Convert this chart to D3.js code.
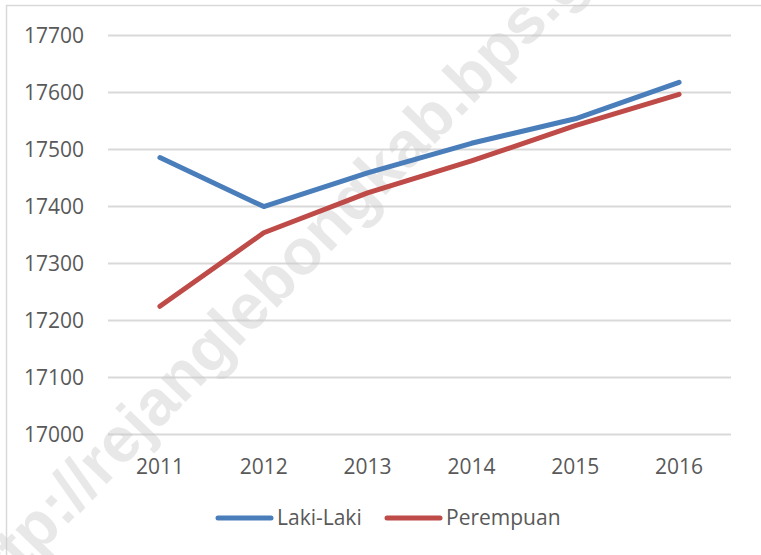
<!DOCTYPE html>
<html>
<head>
<meta charset="utf-8">
<script src="https://cdn.jsdelivr.net/npm/d3@7"></script>
<style>
  html, body { margin: 0; padding: 0; background: #fff; }
  svg { display: block; }
  text { font-family: "Open Sans", "Noto Sans", sans-serif; }
</style>
</head>
<body>
<svg id="chart" width="761" height="555"></svg>
<script>
const years = ["2011", "2012", "2013", "2014", "2015", "2016"];
const lakiLaki = [17485, 17399, 17458, 17510, 17553, 17617];
const perempuan = [17224, 17353, 17423, 17479, 17541, 17596];
const yTicks = [17000, 17100, 17200, 17300, 17400, 17500, 17600, 17700];
const seriesNames = ["Laki-Laki", "Perempuan"];
const seriesColors = ["#4A7EBB", "#BE4B48"];
const watermarkText = "http://rejanglebongkab.bps.go.id";

const svg = d3.select("#chart");
const W = 761, H = 555;
const plot = { left: 108, right: 731, top: 35, bottom: 434 };

// border
svg.append("rect")
  .attr("x", 6.5).attr("y", 5.5)
  .attr("width", W + 10).attr("height", H + 10)
  .attr("fill", "#fff").attr("stroke", "#d9d9d9").attr("stroke-width", 1.5);

const x = d3.scaleBand().domain(years).range([plot.left, plot.right]).padding(0);
const y = d3.scaleLinear().domain([17000, 17700]).range([plot.bottom, plot.top]);

// gridlines
const yAxis = d3.axisLeft(y).tickValues(yTicks).tickSize(-(plot.right - plot.left)).tickFormat(d => d);
const gy = svg.append("g").attr("transform", `translate(${plot.left},0)`).call(yAxis);
gy.select(".domain").remove();
gy.selectAll(".tick line").attr("stroke", "#d9d9d9").attr("stroke-width", 2);
gy.selectAll(".tick text")
  .attr("x", -24).attr("dy", "0.35em")
  .attr("fill", "#595959").style("font-size", "21px");

// watermark
svg.append("text")
  .attr("transform", "translate(-20,615) rotate(-46)")
  .attr("x", 0).attr("y", 0)
  .style("font-family", "'Liberation Sans', Arial, sans-serif")
  .style("font-weight", "bold")
  .style("font-size", "64px")
  .attr("fill", "#c8c8c8")
  .attr("fill-opacity", 0.42)
  .text(watermarkText);

// x axis labels
const xAxis = d3.axisBottom(x).tickSize(0).tickPadding(0);
const gx = svg.append("g").attr("transform", `translate(0,${plot.bottom})`).call(xAxis);
gx.select(".domain").remove();
gx.selectAll(".tick text")
  .attr("y", 40).attr("dy", 0)
  .attr("fill", "#595959").style("font-size", "21px");

// lines
const line = d3.line()
  .x((d, i) => x(years[i]) + x.bandwidth() / 2)
  .y(d => y(d));

[lakiLaki, perempuan].forEach((vals, k) => {
  svg.append("path")
    .datum(vals)
    .attr("d", line)
    .attr("fill", "none")
    .attr("stroke", seriesColors[k])
    .attr("stroke-width", 5)
    .attr("stroke-linecap", "round")
    .attr("stroke-linejoin", "round");
});

// legend
const legendItems = [
  { x1: 218, x2: 271, tx: 277 },
  { x1: 387, x2: 440, tx: 446 }
];
const ly = 518;
legendItems.forEach((it, k) => {
  svg.append("line")
    .attr("x1", it.x1).attr("x2", it.x2)
    .attr("y1", ly).attr("y2", ly)
    .attr("stroke", seriesColors[k]).attr("stroke-width", 5)
    .attr("stroke-linecap", "round");
  svg.append("text")
    .attr("x", it.tx).attr("y", ly).attr("dy", "0.35em")
    .attr("fill", "#595959").style("font-size", "21px")
    .text(seriesNames[k]);
});
</script>
</body>
</html>
